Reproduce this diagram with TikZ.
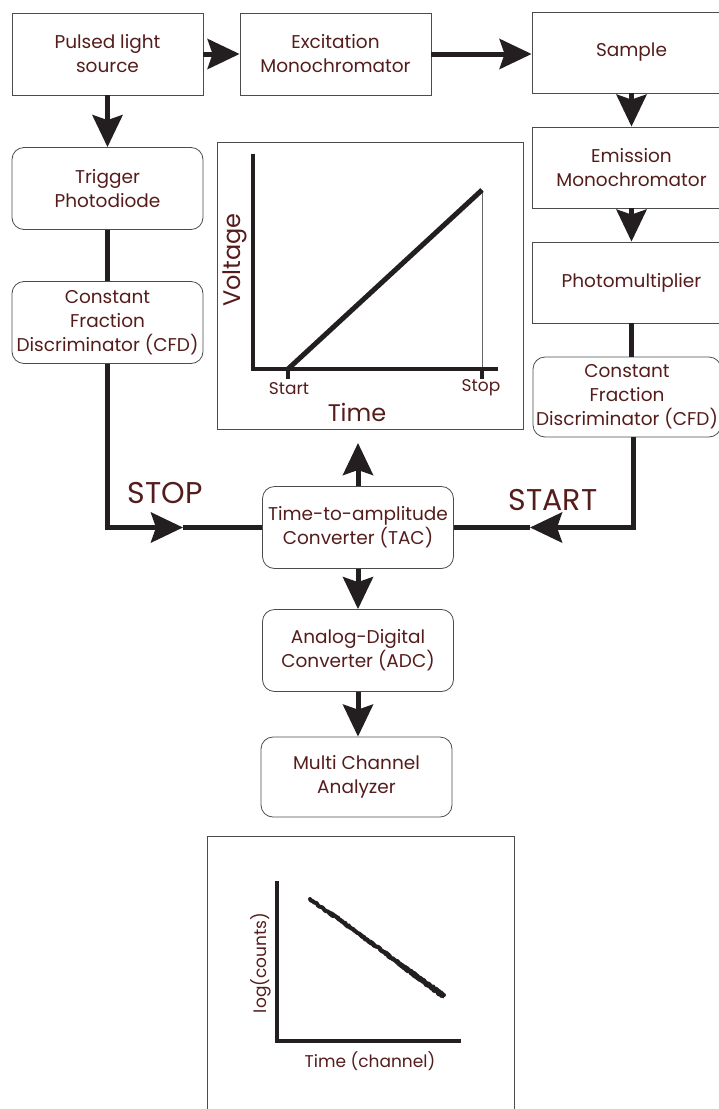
\documentclass[tikz,border=0pt]{standalone}
\usepackage{fontspec}
\setmainfont{Poppins}
\usetikzlibrary{arrows.meta,decorations.pathmorphing}
\definecolor{labelred}{RGB}{85,28,28}
\definecolor{inkline}{RGB}{35,31,32}

\begin{document}
\begin{tikzpicture}[x=1pt, y=-1pt,
  every node/.style={font=\fontsize{18.5}{24}\selectfont, text=labelred, align=center},
  box/.style={draw=black!70, line width=0.8pt, minimum width=191pt,
    minimum height=82pt, inner sep=0pt},
  rbox/.style={box, rounded corners=12pt},
  conn/.style={draw=inkline, line width=5pt},
  arr/.style={conn, -{Stealth[length=32pt, width=30pt, inset=5pt]}},
  axis/.style={draw=inkline, line width=4pt, line join=miter},
  noisy/.style={draw=inkline, line join=round, line cap=round, decorate},
  big/.style={font=\fontsize{30}{30}\selectfont, anchor=base}]
\useasboundingbox (0,0) rectangle (718,1109);
\node[box] (src) at (107.5,54) {Pulsed light\\source};
\node[box] (exc) at (335.5,54) {Excitation\\Monochromator};
\node[box, minimum width=199pt, minimum height=81pt] (smp) at (631.5,52.5) {Sample};
\node[box, minimum width=199pt, minimum height=81pt] (emi) at (631.5,167.5) {Emission\\Monochromator};
\node[box, minimum width=199pt, minimum height=81pt] (pmt) at (631.5,282.5) {Photomultiplier};
\node[rbox, minimum width=188pt, minimum height=80pt] (cfdR) at (627,397) {Constant\\Fraction\\Discriminator (CFD)};
\node[rbox] (trig) at (107.5,188.5) {Trigger\\Photodiode};
\node[rbox] (cfdL) at (107.5,322.5) {Constant\\Fraction\\Discriminator (CFD)};
\node[rbox] (tac) at (358,527.5) {Time-to-amplitude\\Converter (TAC)};
\node[rbox] (adc) at (358,650.5) {Analog-Digital\\Converter (ADC)};
\node[rbox, minimum height=80pt] (mca) at (356.5,777) {Multi Channel\\Analyzer};
\node[draw=black!70, line width=0.8pt, minimum width=306pt, minimum height=287pt,
  inner sep=0pt] (vplot) at (370,285.5) {};
\coordinate (vin) at (358,443);
\coordinate (stopTip) at (183,527.5);
\coordinate (startTip) at (530,527.5);
\node[big] (stop) at (165,503) {STOP};
\node[big] (start) at (553,510) {START};
% signal path
\draw[arr] (src) -- (exc);
\draw[arr] (exc.east) -- (exc.east -| smp.west);
\draw[arr] (src) -- (trig);
\draw[arr] (smp) -- (emi);
\draw[arr] (emi) -- (pmt);
\draw[conn] (trig) -- (cfdL) (pmt.south) -- (pmt.south |- cfdR.north);
\draw[arr] (cfdL.south) |- (stopTip);
\draw[conn] (stopTip) -- (tac.west);
\draw[arr] ([xshift=6pt]cfdR.south) |- (startTip);
\draw[conn] (startTip) -- (tac.east);
\draw[arr] (tac.north) -- (vin);
\draw[arr] (tac) -- (adc);
\draw[arr] (adc.south) -- (adc.south |- mca.north);
% voltage ramp
\draw[black!60, line width=0.8pt] (482,190) -- (482,369);
\draw[axis] (253,154) -- (253,369) -- (498,369);
\draw[axis] (288,369) -- (288,379) (482,369) -- (482,379);
\draw[draw=inkline, line width=5pt] (288,369) -- (482,190);
\node (tstart) at (289,389) {\fontsize{17}{17}\selectfont Start};
\node (tstop) at (481,388) {\fontsize{17}{17}\selectfont Stop};
\node[font=\fontsize{24}{24}\selectfont] (ttime) at (357,412) {Time};
\node[font=\fontsize{24}{24}\selectfont, rotate=90] (tvolt) at (235,260) {Voltage};
% decay histogram
\draw[black!70, line width=0.8pt] (207,1109) |- (514,836) -- (514,1109);
\draw[axis] (277,881) -- (277,1041) -- (461,1041);
\draw[noisy, line width=4pt,
  decoration={random steps, segment length=1.5pt, amplitude=0.8pt}] (310,899) -- (444,995);
\draw[noisy, line width=3pt,
  decoration={random steps, segment length=1pt, amplitude=1.2pt}] (330,912) -- (443,997);
\draw[noisy, line width=3pt,
  decoration={random steps, segment length=1pt, amplitude=1.6pt}] (405,968) -- (443,996);
\node[rotate=90] (tcounts) at (261,963) {\fontsize{17}{17}\selectfont log(counts)};
\node (tchan) at (370,1061) {\fontsize{17}{17}\selectfont Time (channel)};
\end{tikzpicture}
\end{document}
